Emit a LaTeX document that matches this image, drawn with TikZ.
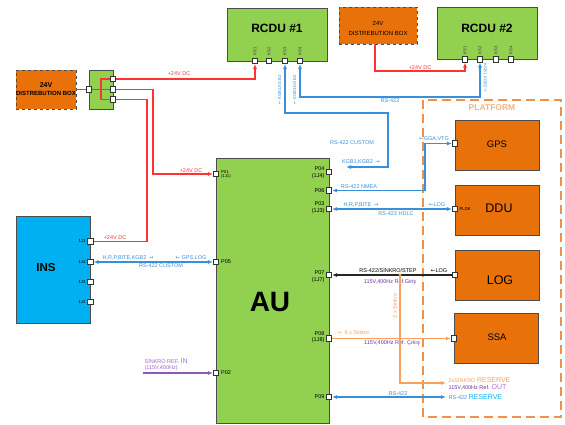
\documentclass[tikz,border=0pt]{standalone}
\usepackage{fontspec}
\setmainfont{Liberation Sans}
\newfontfamily\arr{DejaVu Sans}
\usetikzlibrary{arrows.meta}
\definecolor{grn}{HTML}{92D050}
\definecolor{org}{HTML}{E8710A}
\definecolor{insb}{HTML}{00B0F0}
\definecolor{redl}{HTML}{FF3333}
\definecolor{bluel}{HTML}{3A8FDB}
\definecolor{purp}{HTML}{7030A0}
\definecolor{lpurp}{HTML}{B070D0}
\definecolor{lorg}{HTML}{F7A060}
\definecolor{platf}{HTML}{F0914A}
\definecolor{platt}{HTML}{F4B183}
\definecolor{cyanl}{HTML}{00B0F0}
\newcommand\ra{{\arr→}}
\newcommand\la{{\arr←}}
\begin{document}
\begin{tikzpicture}[x=1pt,y=-1pt,
  box/.style={draw=black!70, line width=0.8pt, inner sep=0pt},
  dbox/.style={draw=black!70, dashed, line width=0.8pt, fill=org, inner sep=0pt},
  port/.style={draw=black!80, fill=white, line width=0.6pt, minimum size=5.5pt, inner sep=0pt},
  lbl/.style={font=\fontsize{5.5}{6.5}\selectfont, inner sep=0.4pt},
  tiny/.style={font=\fontsize{4.3}{4.8}\selectfont, inner sep=0.3pt},
  tip/.style={-{Latex[length=5pt,width=4pt]}},
  tips/.style={{Latex[length=5pt,width=4pt]}-{Latex[length=5pt,width=4pt]}},
  redw/.style={draw=redl, line width=1.2pt},
  bluew/.style={draw=bluel, line width=1.3pt},
  blkw/.style={draw=black!85, line width=1.1pt},
  orw/.style={draw=lorg, line width=1.1pt},
  purw/.style={draw=purp!80, line width=1.1pt}]
\useasboundingbox (0,0) rectangle (565,425);

% platform
\draw[platf, line width=1.5pt, dash pattern=on 9pt off 5pt] (423,100) rectangle (561,417);
\node[font=\bfseries\fontsize{8.5}{10}\selectfont, text=platt] (platl) at (492,108) {PLATFORM};

% distribution boxes
\node[dbox, minimum width=60pt, minimum height=39pt] (db1) at (46,89.5) {};
\node[font=\bfseries\fontsize{6}{7}\selectfont, align=center] (db1t) at (46,89) {{\fontsize{7}{8}\selectfont 24V}\\[1pt]DISTREBUTION BOX};
\node[dbox, minimum width=78pt, minimum height=37pt] (db2) at (378,25.5) {};
\node[font=\fontsize{6}{7}\selectfont, align=center] (db2t) at (378,28.5) {24V\\[3pt]DISTREBUTION BOX};

% junction box
\node[box, fill=grn, minimum width=24pt, minimum height=39pt] (jb) at (101,89.5) {};
\node[port] (jbin) at (89,89.5) {};
\node[port] (jbo1) at (113,79) {};
\node[port] (jbo2) at (113,89.5) {};
\node[port] (jbo3) at (113,99.3) {};

% RCDU 1
\node[box, fill=grn, minimum width=100pt, minimum height=53pt] (rcdu1) at (277,34.5) {};
\node[font=\bfseries\fontsize{12}{14}\selectfont] (rcdu1t) at (277,28) {RCDU \#1};
\foreach \n/\x in {1/255,2/269,3/285,4/300}{
  \node[port] (r1k\n) at (\x,61) {};
  \node[tiny, rotate=90, text=black!75] (r1l\n) at (\x,51) {KS\n};
}
% RCDU 2
\node[box, fill=grn, minimum width=100pt, minimum height=52pt] (rcdu2) at (487,33.5) {};
\node[font=\bfseries\fontsize{12}{14}\selectfont] (rcdu2t) at (487,28) {RCDU \#2};
\foreach \n/\x in {1/465,2/480,3/496,4/511}{
  \node[port] (r2k\n) at (\x,59.5) {};
  \node[tiny, rotate=90, text=black!75] (r2l\n) at (\x,50) {KS\n};
}

% INS
\node[box, fill=insb, minimum width=74pt, minimum height=107pt] (ins) at (53.5,269.5) {};
\node[font=\bfseries\fontsize{11.5}{13}\selectfont] (inst) at (46,268) {INS};
\foreach \n/\lab/\y in {1/1J1/241.5,4/1J4/262,3/1J3/282,2/1J2/302}{
  \node[port] (ins\n) at (90.5,\y) {};
  \node[tiny, anchor=east] (insl\n) at (86,\y) {\lab};
}

% AU
\node[box, fill=grn, minimum width=113pt, minimum height=265pt] (au) at (272.5,290.5) {};
\node[font=\bfseries\fontsize{28}{30}\selectfont] (aut) at (270,302) {AU};
\node[port] (aup01) at (216,174) {};
\node[port] (aup05) at (216,262) {};
\node[port] (aup02) at (216,373) {};
\node[port] (aup04) at (329,172) {};
\node[port] (aup06) at (329,190.5) {};
\node[port] (aup03) at (329,209) {};
\node[port] (aup07) at (329,275) {};
\node[port] (aup08) at (329,338.5) {};
\node[port] (aup09) at (329,397) {};
\node[tiny, anchor=west, align=left] (lp01) at (220.5,174.5) {P01\\(1J1)};
\node[lbl, anchor=west] (lp05) at (220.5,262) {P05};
\node[lbl, anchor=west] (lp02) at (220.5,373) {P02};
\node[lbl, anchor=east, align=right] (lp04) at (325,172.5) {P04\\(1J4)};
\node[lbl, anchor=east] (lp06) at (325,190.5) {P06};
\node[lbl, anchor=east, align=right] (lp03) at (325,207.5) {P03\\(1J3)};
\node[lbl, anchor=east, align=right] (lp07) at (325,276.5) {P07\\(1J7)};
\node[lbl, anchor=east, align=right] (lp08) at (325,337) {P08\\(1J8)};
\node[lbl, anchor=east] (lp09) at (325,397) {P09};

% platform units
\node[box, fill=org, minimum width=84pt, minimum height=50pt] (gps) at (497,145) {};
\node[font=\fontsize{9.5}{11}\selectfont] (gpst) at (497,144) {GPS};
\node[port] (gpsp) at (455,143.5) {};
\node[box, fill=org, minimum width=84pt, minimum height=50pt] (ddu) at (497,210) {};
\node[font=\fontsize{12.5}{14}\selectfont] (ddut) at (499,208) {DDU};
\node[port] (ddup) at (455,209) {};
\node[tiny, anchor=west] (pldk) at (459,209) {PLDK};
\node[box, fill=org, minimum width=84pt, minimum height=50pt] (log) at (497,275) {};
\node[font=\fontsize{12.5}{14}\selectfont] (logt) at (500,280) {LOG};
\node[port] (logp) at (455,275) {};
\node[box, fill=org, minimum width=84pt, minimum height=50pt] (ssa) at (496,338) {};
\node[font=\fontsize{9.5}{11}\selectfont] (ssat) at (497,337) {SSA};
\node[port] (ssap) at (454,338.5) {};

% free ends
\coordinate (jbv1) at (101,79);
\coordinate (jbv3) at (101,99.3);
\coordinate (rA) at (153,174);
\coordinate (rB) at (147,241.5);
\coordinate (rC) at (375,71);
\coordinate (db2b) at (375,44);
\coordinate (bA) at (300,97);
\coordinate (bB) at (480,97);
\coordinate (bC) at (285,113);
\coordinate (bD) at (388,113);
\coordinate (bE) at (388,167);
\coordinate (kgbend) at (346,167);
\coordinate (gA) at (425,143.5);
\coordinate (gB) at (425,190.5);
\coordinate (junc) at (400,275);
\coordinate (oA) at (400,383);
\coordinate (res2) at (446,383);
\coordinate (res1) at (446,397);
\coordinate (sref) at (143,373);

% red power lines
\draw[redw] (db1) -- (jbin);
\draw[redw] (jbin) -- (jbo2);
\draw[redw] (jbo1) -- (jbv1) -- (jbv3) -- (jbo3);
\draw[redw, tip] (jbo1) -| (r1k1);
\draw[redw, tip] (jbo2) -| (rA) -- (aup01);
\draw[redw] (jbo3) -| (rB) -- (ins1);
\draw[redw, tip] (db2b) -- (rC) -| (r2k1);
\node[lbl, text=redl] (l24a) at (179,74) {+24V DC};
\node[lbl, text=redl] (l24b) at (191,171) {+24V DC};
\node[lbl, text=redl] (l24c) at (115,238) {+24V DC};
\node[lbl, text=redl] (l24d) at (420,68) {+24V DC};

% blue data lines
\draw[bluew, tips] (r1k4) -- (bA) -- (bB) -- (r2k2);
\node[lbl, text=bluel] (lrs1) at (390,100.5) {RS-422};
\draw[bluew, tips] (r1k3) -- (bC) -- (bD) -- (bE) -- (kgbend);
\node[lbl, text=bluel] (lcus) at (352,143) {RS-422 CUSTOM};
\node[lbl, text=bluel] (lkgb) at (361,162) {KGB1,KGB2 \,\ra};
\node[tiny, text=bluel, rotate=90] (lk3) at (280,90) {\la\ KGB1,KGB2};
\node[tiny, text=bluel, rotate=90] (lk4) at (295,90) {\la\ KGB1,KGB2};
\node[tiny, text=bluel, rotate=-90] (lk5) at (485,78) {KGB1,KGB2 \ra};

\draw[bluew, tips] (gpsp) -- (gA) -- (gB) -- (aup06);
\node[lbl, text=bluel] (lgga) at (434,139) {\la GGA,VTG};
\node[lbl, text=bluel] (lnmea) at (359,186.5) {RS-422 NMEA};

\draw[bluew, tips] (ddup) -- (aup03);
\node[lbl, text=bluel] (lhrp) at (361,204.5) {H,R,P,BITE \,\ra};
\node[lbl, text=bluel] (lhdlc) at (396,213.5) {RS-422 HDLC};
\node[lbl, text=bluel] (llog1) at (437,204.5) {\la LOG};

\draw[bluew, tips] (ins4) -- (aup05);
\node[lbl, text=bluel] (lhrp2) at (128,257.5) {H,R,P,BITE,KGB2 \,\ra};
\node[lbl, text=bluel] (lgpsl) at (191,257.5) {\la\ GPS,LOG};
\node[lbl, text=bluel] (lcus2) at (161,266) {RS-422 CUSTOM};

\draw[bluew, tips] (aup09) -- (res1);
\node[lbl, text=bluel] (lrs2) at (398,393.5) {RS-422};
\node[lbl, anchor=west, text=bluel] (lres1) at (448,397) {RS-422 {\fontsize{7}{7.5}\selectfont\color{cyanl}RESERVE}};

% LOG line
\draw[blkw, tip] (logp) -- (aup07);
\node[lbl] (lsink) at (388,270.5) {RS-422/SİNKRO/STEP};
\node[lbl] (llog2) at (439,271) {\la LOG};
\node[lbl, text=purp] (lgir) at (390,282.5) {115V,400Hz Ref.Giriş};

% sinkro lines
\draw[orw, tip] (aup08) -- (ssap);
\node[lbl, text=lorg] (l6s) at (353,332.5) {\ra\ \;6 x Sinkro};
\node[lbl, text=purp] (lcik) at (392,343.5) {115V,400Hz Ref. Çıkış};
\draw[orw, tip] (junc) -- (oA) -- (res2);
\fill[lorg] (junc) circle (1.6pt);
\node[lbl, text=lorg, rotate=90] (l2s) at (395,306) {2 x Sinkro};
\node[lbl, anchor=west, text=lorg] (lres2) at (448,380) {2xSİNKRO {\fontsize{7}{7.5}\selectfont RESERVE}};
\node[lbl, anchor=west, text=purp] (lout) at (448,387) {115V,400Hz Ref. {\fontsize{7}{7.5}\selectfont\color{lpurp}OUT}};

% sinkro ref in
\draw[purw, tip] (sref) -- (aup02);
\node[lbl, anchor=west, text=lpurp!80!purp, align=left] (lsref) at (144,364.5) {SİNKRO REF. {\fontsize{7}{7.5}\selectfont\color{lpurp}IN}\\(115V,400Hz)};
\end{tikzpicture}
\end{document}
